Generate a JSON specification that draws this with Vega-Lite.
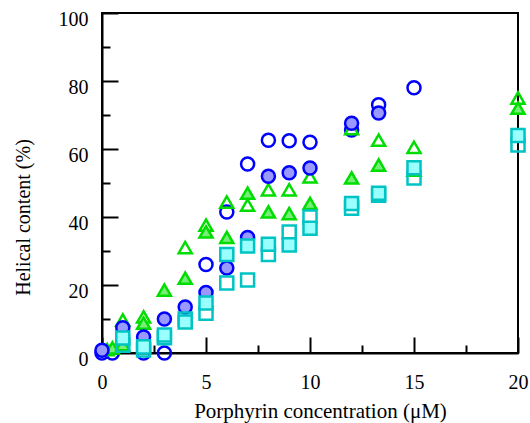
{
  "$schema": "https://vega.github.io/schema/vega-lite/v6.json",
  "width": 416,
  "height": 340,
  "autosize": "none",
  "padding": {"left": 102, "top": 13, "right": 12, "bottom": 70},
  "background": "white",
  "config": {
    "view": {"stroke": "black", "strokeWidth": 2},
    "font": "Liberation Serif"
  },
  "data": {
    "values": [
      {"c": 0, "h": 0, "s": "A"},
      {"c": 0.5, "h": 0, "s": "A"},
      {"c": 2, "h": 0, "s": "A"},
      {"c": 3, "h": 0, "s": "A"},
      {"c": 5, "h": 26, "s": "A"},
      {"c": 6, "h": 41.5, "s": "A"},
      {"c": 7, "h": 55.6, "s": "A"},
      {"c": 8, "h": 62.6, "s": "A"},
      {"c": 9, "h": 62.4, "s": "A"},
      {"c": 10, "h": 62, "s": "A"},
      {"c": 12, "h": 65.6, "s": "A"},
      {"c": 13.3, "h": 73, "s": "A"},
      {"c": 15, "h": 78, "s": "A"},
      {"c": 0.25, "h": 1, "s": "C"},
      {"c": 0.75, "h": 2, "s": "C"},
      {"c": 1, "h": 9.7, "s": "C"},
      {"c": 2, "h": 10.6, "s": "C"},
      {"c": 4, "h": 31, "s": "C"},
      {"c": 5, "h": 37.6, "s": "C"},
      {"c": 6, "h": 44.4, "s": "C"},
      {"c": 7, "h": 43.5, "s": "C"},
      {"c": 8, "h": 48, "s": "C"},
      {"c": 9, "h": 48, "s": "C"},
      {"c": 10, "h": 51.8, "s": "C"},
      {"c": 12, "h": 66, "s": "C"},
      {"c": 13.3, "h": 62.6, "s": "C"},
      {"c": 15, "h": 60.5, "s": "C"},
      {"c": 20, "h": 75, "s": "C"},
      {"c": 0.5, "h": 1.5, "s": "D"},
      {"c": 1, "h": 2.5, "s": "D"},
      {"c": 2, "h": 8.8, "s": "D"},
      {"c": 3, "h": 18.5, "s": "D"},
      {"c": 4, "h": 22, "s": "D"},
      {"c": 5, "h": 35.6, "s": "D"},
      {"c": 6, "h": 34, "s": "D"},
      {"c": 7, "h": 47, "s": "D"},
      {"c": 8, "h": 41.5, "s": "D"},
      {"c": 9, "h": 41, "s": "D"},
      {"c": 10, "h": 44, "s": "D"},
      {"c": 12, "h": 51.5, "s": "D"},
      {"c": 13.3, "h": 55.3, "s": "D"},
      {"c": 15, "h": 53.8, "s": "D"},
      {"c": 20, "h": 72, "s": "D"},
      {"c": 0, "h": 0.8, "s": "B"},
      {"c": 1, "h": 7.4, "s": "B"},
      {"c": 2, "h": 4.7, "s": "B"},
      {"c": 3, "h": 10, "s": "B"},
      {"c": 4, "h": 13.5, "s": "B"},
      {"c": 5, "h": 17.8, "s": "B"},
      {"c": 6, "h": 25, "s": "B"},
      {"c": 7, "h": 34, "s": "B"},
      {"c": 8, "h": 52, "s": "B"},
      {"c": 9, "h": 53, "s": "B"},
      {"c": 10, "h": 54.4, "s": "B"},
      {"c": 12, "h": 67.6, "s": "B"},
      {"c": 13.3, "h": 70.6, "s": "B"},
      {"c": 1, "h": 2.3, "s": "E"},
      {"c": 2, "h": 0.9, "s": "E"},
      {"c": 3, "h": 4.5, "s": "E"},
      {"c": 4, "h": 10, "s": "E"},
      {"c": 5, "h": 11.7, "s": "E"},
      {"c": 6, "h": 20.6, "s": "E"},
      {"c": 7, "h": 21.5, "s": "E"},
      {"c": 8, "h": 29, "s": "E"},
      {"c": 9, "h": 35.6, "s": "E"},
      {"c": 10, "h": 40, "s": "E"},
      {"c": 12, "h": 42.6, "s": "E"},
      {"c": 13.3, "h": 46.4, "s": "E"},
      {"c": 15, "h": 51.5, "s": "E"},
      {"c": 20, "h": 61.2, "s": "E"},
      {"c": 1, "h": 4.4, "s": "F"},
      {"c": 2, "h": 1.8, "s": "F"},
      {"c": 3, "h": 5.3, "s": "F"},
      {"c": 4, "h": 9.1, "s": "F"},
      {"c": 5, "h": 14.7, "s": "F"},
      {"c": 6, "h": 29, "s": "F"},
      {"c": 7, "h": 31.5, "s": "F"},
      {"c": 8, "h": 32, "s": "F"},
      {"c": 9, "h": 31.8, "s": "F"},
      {"c": 10, "h": 36.7, "s": "F"},
      {"c": 12, "h": 44, "s": "F"},
      {"c": 13.3, "h": 47, "s": "F"},
      {"c": 15, "h": 54.5, "s": "F"},
      {"c": 20, "h": 64, "s": "F"}
    ]
  },
  "mark": {"type": "point", "strokeWidth": 2.5, "filled": false, "opacity": 1, "clip": false},
  "encoding": {
    "x": {
      "field": "c", "type": "quantitative",
      "scale": {"domain": [0, 20], "nice": false, "zero": false},
      "axis": {
        "title": "Porphyrin concentration (\u03bcM)",
        "values": [0, 2.5, 5, 7.5, 10, 12.5, 15, 17.5, 20],
        "labelExpr": "datum.value % 5 === 0 ? datum.label : ''",
        "labelFlush": false, "labelOverlap": false, "labelBound": false,
        "domainColor": "black", "domainWidth": 2,
        "tickColor": "black", "tickWidth": 2,
        "tickSize": {"condition": {"test": "datum.value % 5 === 0", "value": -16}, "value": -8},
        "grid": false,
        "labelFont": "Liberation Serif", "labelFontSize": 20, "labelColor": "black",
        "labelPadding": 35,
        "titleFont": "Liberation Serif", "titleFontSize": 21, "titleFontWeight": "normal", "titleColor": "black",
        "titleX": 218, "titleY": 47, "titleBaseline": "top", "titleAlign": "center"
      }
    },
    "y": {
      "field": "h", "type": "quantitative",
      "scale": {"domain": [0, 100], "nice": false, "zero": false},
      "axis": {
        "title": "Helical content (%)",
        "values": [0, 10, 20, 30, 40, 50, 60, 70, 80, 90, 100],
        "labelExpr": "datum.value % 20 === 0 ? datum.label : ''",
        "labelFlush": false, "labelOverlap": false, "labelBound": false,
        "domainColor": "black", "domainWidth": 2,
        "tickColor": "black", "tickWidth": 2,
        "tickSize": {"condition": {"test": "datum.value % 20 === 0", "value": -16}, "value": -8},
        "grid": false,
        "labelFont": "Liberation Serif", "labelFontSize": 20, "labelColor": "black",
        "labelPadding": 30, "labelOffset": 6,
        "titleFont": "Liberation Serif", "titleFontSize": 20, "titleFontWeight": "normal", "titleColor": "black",
        "titleX": -69, "titleY": 204, "titleAngle": 270, "titleBaseline": "bottom", "titleAlign": "center"
      }
    },
    "shape": {
      "field": "s", "type": "nominal", "legend": null,
      "scale": {"domain": ["A", "B", "C", "D", "E", "F"], "range": ["circle", "circle", "triangle-up", "triangle-up", "square", "square"]}
    },
    "stroke": {
      "field": "s", "type": "nominal", "legend": null,
      "scale": {"domain": ["A", "B", "C", "D", "E", "F"], "range": ["#0000ff", "#0000ff", "#00dd00", "#00dd00", "#00c4c4", "#00c4c4"]}
    },
    "fill": {
      "field": "s", "type": "nominal", "legend": null,
      "scale": {"domain": ["A", "B", "C", "D", "E", "F"], "range": ["transparent", "#9999ff", "transparent", "#77ee77", "transparent", "#99ffff"]}
    },
    "size": {
      "field": "s", "type": "nominal", "legend": null,
      "scale": {"domain": ["A", "B", "C", "D", "E", "F"], "range": [170, 170, 220, 220, 140, 140]}
    }
  }
}
